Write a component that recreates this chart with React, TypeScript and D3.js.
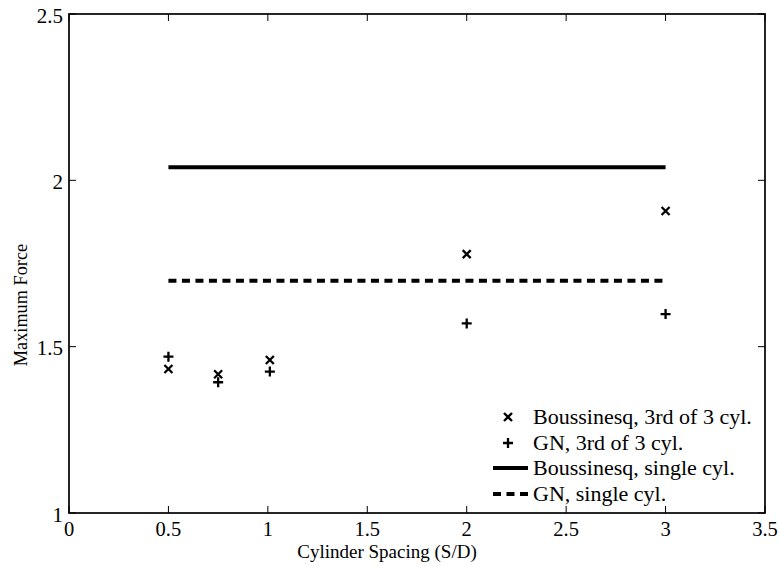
import React from "react";
import * as d3 from "d3";

const spacings = [0.5, 0.75, 1.01, 2, 3];
const boussinesq3rd = [1.433, 1.417, 1.46, 1.778, 1.908];
const gn3rd = [1.47, 1.393, 1.425, 1.57, 1.598];
const singleRange = [0.5, 3];
const boussinesqSingle = 2.039;
const gnSingle = 1.698;
const xTicks = [0, 0.5, 1, 1.5, 2, 2.5, 3, 3.5];
const yTicks = [1, 1.5, 2, 2.5];
const legendLabels = [
  "Boussinesq, 3rd of 3 cyl.",
  "GN, 3rd of 3 cyl.",
  "Boussinesq, single cyl.",
  "GN, single cyl.",
];

const W = 779;
const H = 567;
const L = 69, R = 765, T = 14, B = 513;
const fs = { fontFamily: "Liberation Serif" };

export default function App() {
  const x = d3.scaleLinear().domain([0, 3.5]).range([L, R]);
  const y = d3.scaleLinear().domain([1, 2.5]).range([B, T]);
  const line = d3.line<[number, number]>().x((d) => x(d[0])).y((d) => y(d[1]));
  const cross = (cx: number, cy: number, k: string) => (
    <path key={k} d={`M${cx - 4},${cy - 4}L${cx + 4},${cy + 4}M${cx - 4},${cy + 4}L${cx + 4},${cy - 4}`} stroke="#000" strokeWidth={2.3} fill="none" />
  );
  const plus = (cx: number, cy: number, k: string) => (
    <path key={k} d={`M${cx - 5},${cy}L${cx + 5},${cy}M${cx},${cy - 5}L${cx},${cy + 5}`} stroke="#000" strokeWidth={2.3} fill="none" />
  );
  const legY = [417, 443, 468, 494];
  return (
    <svg width={W} height={H} style={{ position: "absolute", left: 0, top: 0, background: "#fff", fontFamily: "Liberation Serif" }}>
      <rect x={0} y={0} width={W} height={H} fill="#fff" />
      <path d={line(singleRange.map((s) => [s, boussinesqSingle]) as [number, number][]) || ""} stroke="#000" strokeWidth={4} fill="none" />
      <path d={line(singleRange.map((s) => [s, gnSingle]) as [number, number][]) || ""} stroke="#000" strokeWidth={4} fill="none" strokeDasharray="8,5.5" />
      {spacings.map((s, i) => cross(x(s), y(boussinesq3rd[i]), "b" + i))}
      {spacings.map((s, i) => plus(x(s), y(gn3rd[i]), "g" + i))}
      <rect x={L} y={T} width={R - L} height={B - T} fill="none" stroke="#000" strokeWidth={1.7} />
      {xTicks.map((t) => (
        <g key={"xt" + t}>
          <line x1={x(t)} x2={x(t)} y1={B} y2={B - 7} stroke="#000" strokeWidth={1} />
          <line x1={x(t)} x2={x(t)} y1={T} y2={T + 7} stroke="#000" strokeWidth={1} />
          <text x={x(t)} y={536} textAnchor="middle" style={fs} fontSize={20.5}>{t}</text>
        </g>
      ))}
      {yTicks.map((t) => (
        <g key={"yt" + t}>
          <line x1={L} x2={L + 7} y1={y(t)} y2={y(t)} stroke="#000" strokeWidth={1} />
          <line x1={R} x2={R - 7} y1={y(t)} y2={y(t)} stroke="#000" strokeWidth={1} />
          <text x={63} y={y(t) + 8.5} textAnchor="end" style={fs} fontSize={21}>{t}</text>
        </g>
      ))}
      <text x={387} y={558} textAnchor="middle" style={fs} fontSize={19}>Cylinder Spacing (S/D)</text>
      <text transform={`translate(27,305) rotate(-90)`} textAnchor="middle" style={fs} fontSize={18.3}>Maximum Force</text>
      {cross(508, legY[0], "lc")}
      {plus(508, legY[1], "lp")}
      <line x1={493} x2={528} y1={legY[2]} y2={legY[2]} stroke="#000" strokeWidth={4} />
      <line x1={493} x2={528} y1={legY[3]} y2={legY[3]} stroke="#000" strokeWidth={4} strokeDasharray="8,5.5" />
      {legendLabels.map((lab, i) => (
        <text key={lab} x={533} y={legY[i] + 6.5} style={fs} fontSize={22}>{lab}</text>
      ))}
    </svg>
  );
}
